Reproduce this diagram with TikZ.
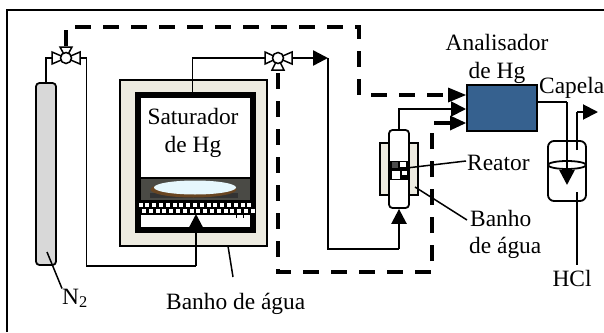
\documentclass[tikz,border=0pt]{standalone}
\usepackage{fontspec}
\setmainfont{Liberation Serif}
\usetikzlibrary{arrows.meta}
\definecolor{bathc}{HTML}{EDEBE0}
\definecolor{cylc}{HTML}{D8D8D8}
\definecolor{boxc}{HTML}{36618F}
\definecolor{imgc}{HTML}{4A4A45}
\tikzset{
  lbl/.style={inner sep=0pt,font=\fontsize{23.4}{27}\selectfont,text=black},
  pipe/.style={draw=black,line width=1.9pt},
  hpipe/.style={draw=black,line width=2.5pt},
  dpipe/.style={draw=black,line width=3.5pt,dash pattern=on 16pt off 12pt},
  leader/.style={draw=black,line width=1.5pt},
  tip/.style={-{Triangle[length=15pt,width=15pt]}},
  vessel/.style={draw=black,line width=1.8pt,inner sep=0pt,rounded corners=3.5pt},
  bathbox/.style={draw=black,line width=1.8pt,fill=bathc,inner sep=0pt},
  valvepart/.style={draw=black,line width=1.5pt,fill=white},
}
\begin{document}
\begin{tikzpicture}[x=1pt,y=-1pt]
\useasboundingbox (0,0) rectangle (604,332);
% frame
\draw[line width=1.8pt] (7,332) -- (7,10) -- (604,10);

% saturator
\node[bathbox,minimum width=147pt,minimum height=166pt] (bathA) at (193.5,163) {};
\fill[black] (134.5,92) rectangle (256,233);
\fill[white] (140.5,98) rectangle (250,177);
\fill[imgc] (140.5,179) rectangle (250,200);
\fill[black!80] (150,193) rectangle (238,198);
\fill[brown!55!black] (193.5,189.5) ellipse (43 and 8);
\fill[white!90!cyan] (195,187.5) ellipse (41 and 7);
\fill[black] (138,202) rectangle (253,214);
\foreach \i in {0,...,16}{
  \fill[white] ({138.5+\i*6.8},203) rectangle +(4,4);
  \fill[white] ({141.9+\i*6.8},208.5) rectangle +(4,4);
}
\fill[white] (140.5,215) rectangle (250,227);
\draw[line width=1pt] (236,214) -- (236,218) (243,214) -- (243,218);
\coordinate (satTop) at (192.5,92);
\coordinate (satIn) at (196,214);

% cylinder
\node[vessel,fill=cylc,minimum width=20pt,minimum height=182pt] (cyl) at (46,174) {};

% valves
\coordinate (v1) at (66,58);
\coordinate (v2) at (278,58);
\path[valvepart] (v1) -- (52,52) -- (52,64) -- cycle;
\path[valvepart] (v1) -- (80,52) -- (80,64) -- cycle;
\path[valvepart] (v1) -- (60,47) -- (72,47) -- cycle;
\node[valvepart,circle,minimum size=11pt,inner sep=0pt] (valveA) at (v1) {};
\path[valvepart] (v2) -- (265,52) -- (265,64) -- cycle;
\path[valvepart] (v2) -- (292,52) -- (292,64) -- cycle;
\path[valvepart] (v2) -- (272,70) -- (284,70) -- cycle;
\node[valvepart,circle,minimum size=11pt,inner sep=0pt] (valveB) at (v2) {};
\coordinate (v1L) at (52,58); \coordinate (v1R) at (80,58); \coordinate (v1T) at (66,46);
\coordinate (v2L) at (265,58); \coordinate (v2R) at (292,58); \coordinate (v2B) at (278,73);

% reactor
\node[bathbox,minimum width=38pt,minimum height=52pt] (bathB) at (399,169) {};
\node[vessel,fill=white,minimum width=20pt,minimum height=78pt] (reactor) at (399,169) {};
\fill[black] (390,161) rectangle (408,180);
\fill[white] (392,171) rectangle (400,179);
\fill[white] (400,162) rectangle (406,167);
\fill[white] (402,171) rectangle (407,175);
\fill[black!70] (392,162) rectangle (398,168);

% analyser
\node[draw=black,line width=1.8pt,fill=boxc,minimum width=70pt,minimum height=46pt,inner sep=0pt] (analyser) at (502,108) {};
\coordinate (anA) at (466,95);
\coordinate (anB) at (466,109);
\coordinate (anC) at (466,123);

% scrubber
\node[vessel,fill=white,minimum width=38pt,minimum height=60pt,rounded corners=6pt] (scrub) at (567,171) {};
\draw[line width=1.8pt] (548,165) arc[start angle=180,end angle=0,x radius=19,y radius=4];
\draw[line width=1.8pt] (548,165) arc[start angle=180,end angle=360,x radius=19,y radius=4];

% pipes
\draw[pipe] (cyl.north) |- (v1L);
\draw[pipe] (v1R) -| (86.5,266) -- (196,266);
\draw[hpipe,tip] (196,266) -- (satIn);
\draw[pipe] (satTop) |- (v2L);
\draw[hpipe,tip] (v2R) -- (328,58);
\draw[hpipe] (328,58) -- (328,249) -- (399,249);
\draw[hpipe,tip] (399,249) -- (reactor.south);
\draw[pipe,tip] (reactor.north) |- (anB);
\draw[dpipe] (v1T) -- (66,27) -- (359,27) -- (359,95) -- (448,95);
\draw[draw=none,fill=black] (448,87.5) -- (anA) -- (448,102.5) -- cycle;
\draw[dpipe] (v2B) -- (278,272) -- (432,272) -- (432,123) -- (450,123);
\draw[draw=none,fill=black] (450,115.5) -- (anC) -- (450,130.5) -- cycle;
\draw[pipe] (analyser.east |- 0,102) -- (567,102);
\draw[hpipe,tip] (567,102) -- (567,185);
\draw[pipe] (577,150) -- (577,112);
\draw[pipe,tip] (577,112) -- (598,112);

% labels
\node[lbl,anchor=base] (tSat) at (193,124) {Saturador};
\node[lbl,anchor=base] (tSatb) at (193,152) {de Hg};
\node[lbl,anchor=base] (tAn) at (497,50) {Analisador};
\node[lbl,anchor=base] (tAnb) at (497,78) {de Hg};
\node[lbl,anchor=base west] (tCap) at (539,93) {Capela};
\node[lbl,anchor=base west] (tRe) at (467,170) {Reator};
\node[lbl,anchor=base west] (tBa) at (470,226) {Banho};
\node[lbl,anchor=base west] (tAg) at (469,253) {de água};
\node[lbl,anchor=base] (tHCl) at (572,286) {HCl};
\node[lbl,anchor=base west] (tN) at (62,304) {N\textsubscript{2}};
\node[lbl,anchor=base west] (tBb) at (166,309) {Banho de água};

% leaders
\draw[leader] (47,252) -- (tN.north west);
\draw[leader] (228,246) -- (233,277);
\draw[leader] (398,169) -- (466,161);
\draw[leader] (415,187) -- (467,220);
\draw[leader] (577,192) -- (577,265);
\end{tikzpicture}
\end{document}
